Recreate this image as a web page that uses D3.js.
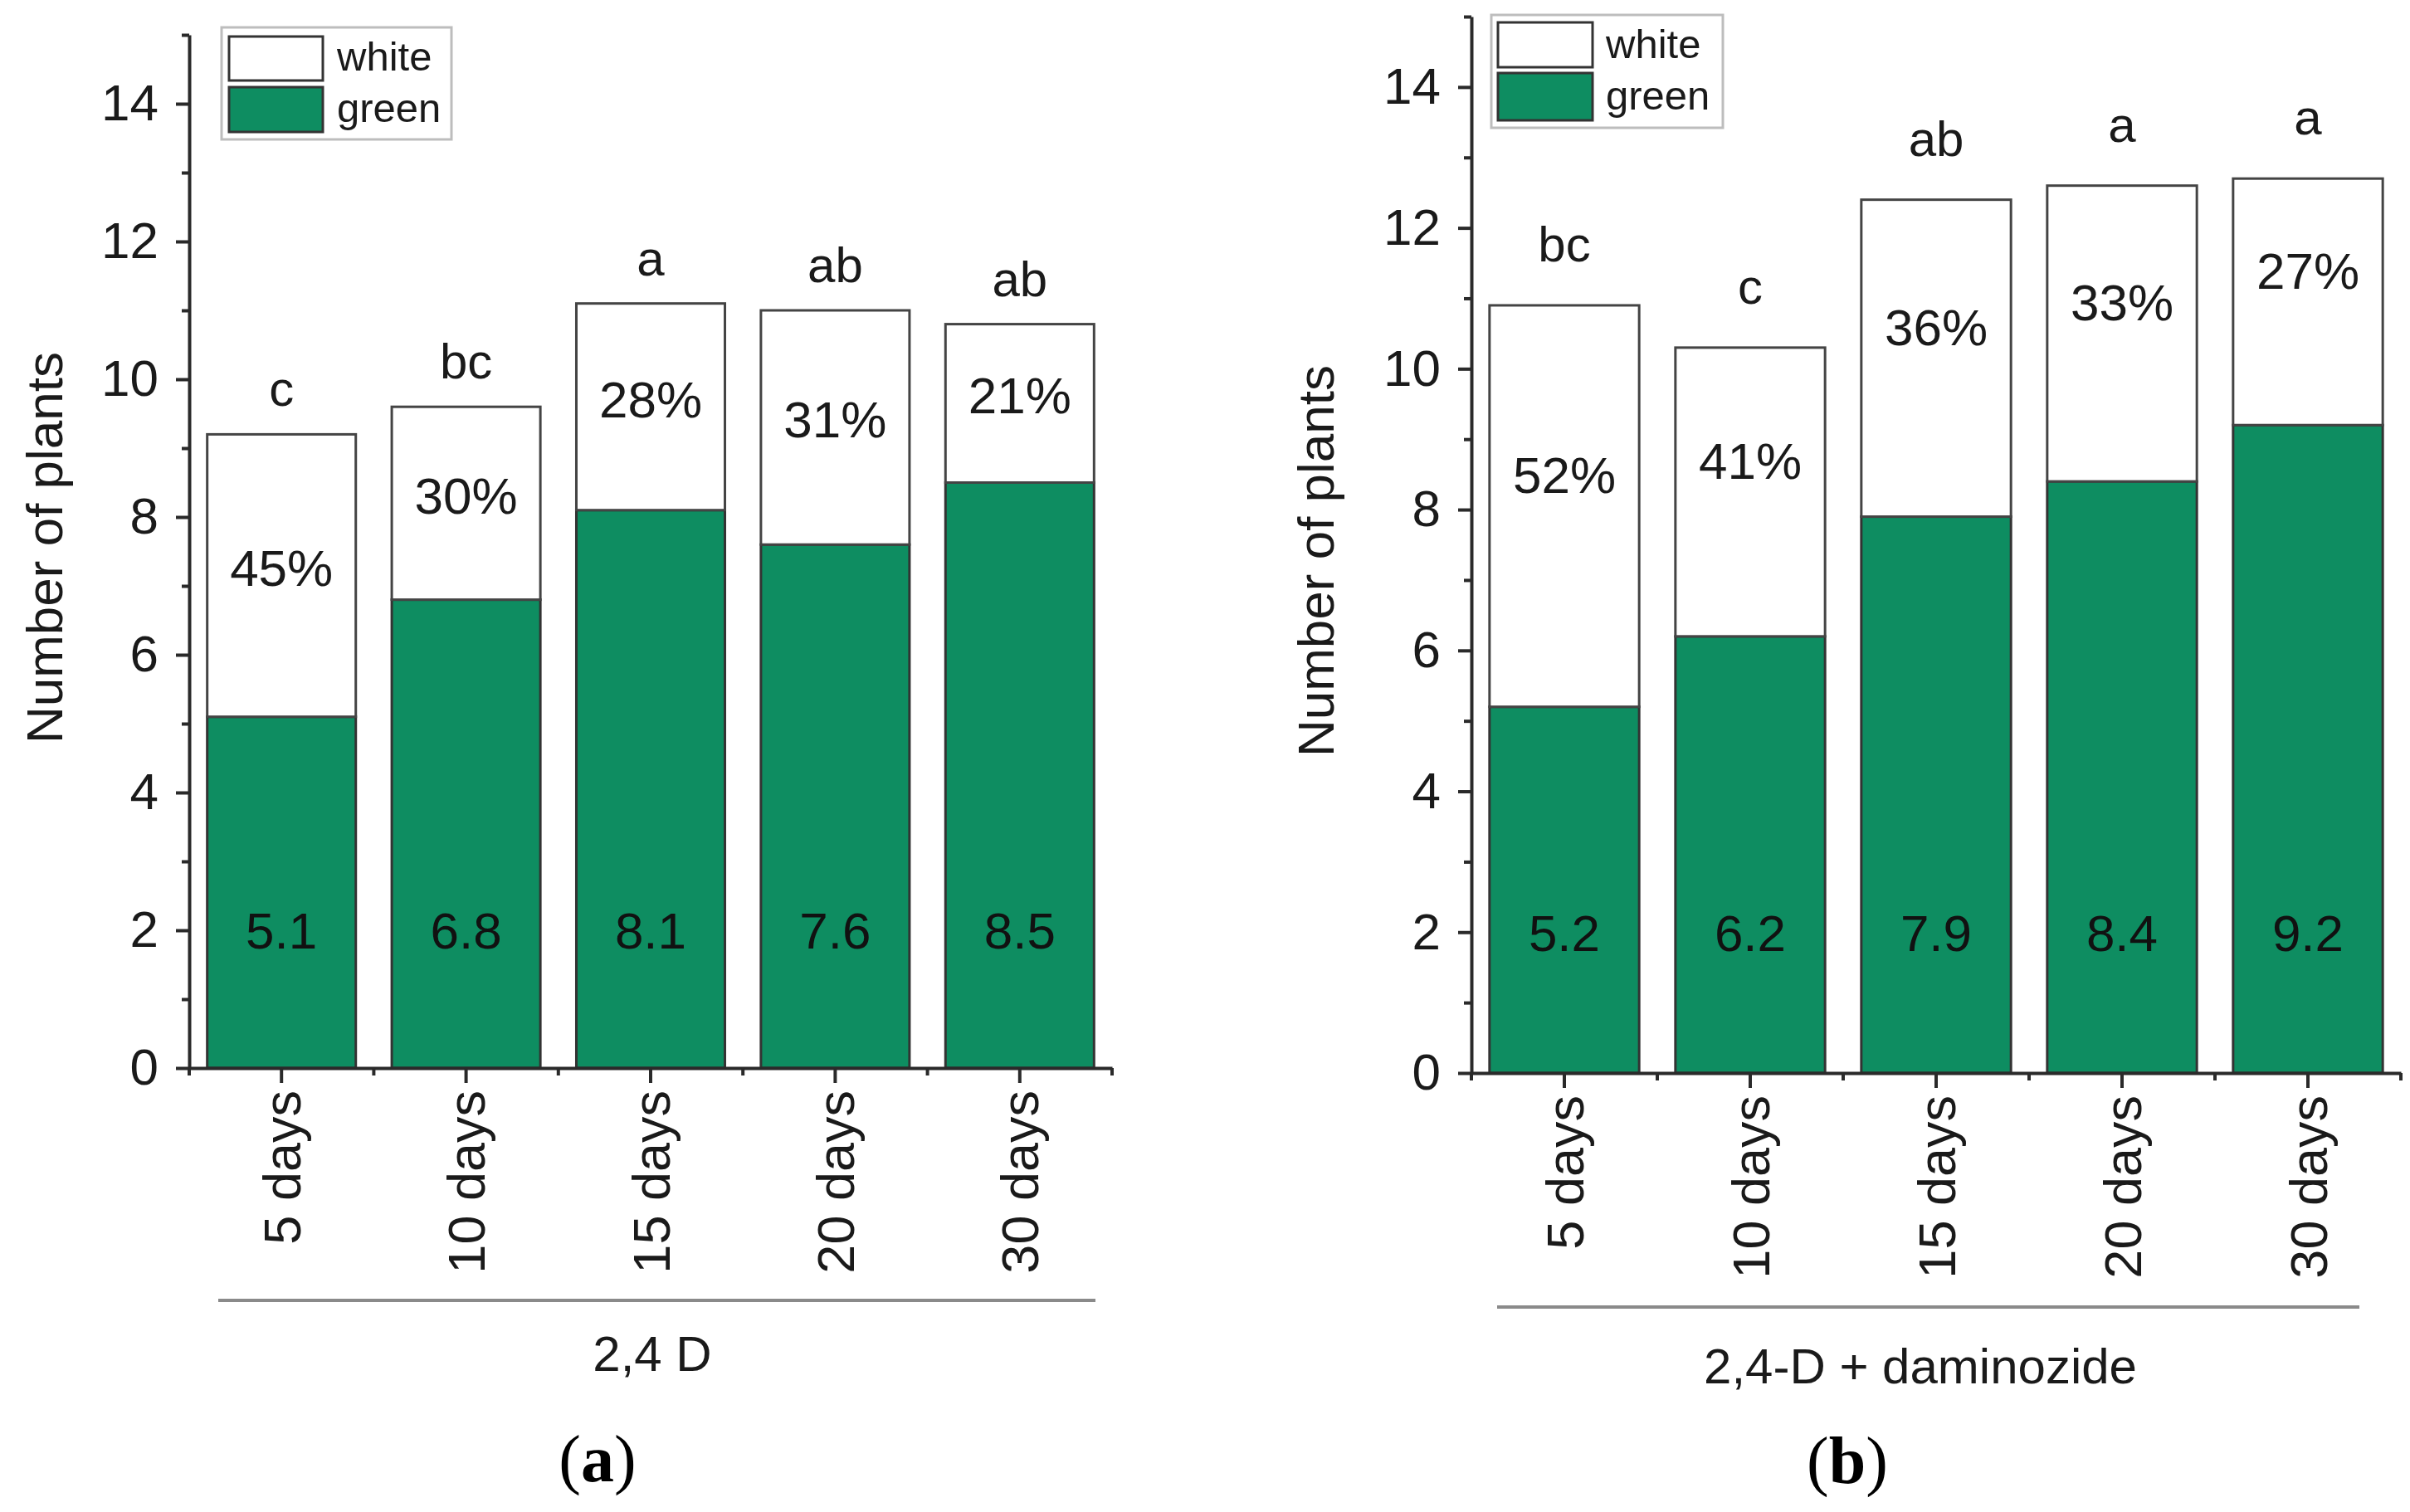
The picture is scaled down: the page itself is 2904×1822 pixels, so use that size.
<!DOCTYPE html>
<html>
<head>
<meta charset="utf-8">
<script src="https://cdn.jsdelivr.net/npm/d3@7"></script>
<style>
  html, body { margin: 0; padding: 0; background: #fff; }
  svg { display: block; }
  text { font-family: "Liberation Sans", Arial, sans-serif; fill: #1a1a1a; }
</style>
</head>
<body>
<svg id="chart" width="2904" height="1822"></svg>
<script>
// ---------- data ----------
const categories = ["5 days", "10 days", "15 days", "20 days", "30 days"];

const greenA = [5.1, 6.8, 8.1, 7.6, 8.5];
const totalA = [9.2, 9.6, 11.1, 11.0, 10.8];
const pctA = ["45%", "30%", "28%", "31%", "21%"];
const lettersA = ["c", "bc", "a", "ab", "ab"];

const greenB = [5.2, 6.2, 7.9, 8.4, 9.2];
const totalB = [10.9, 10.3, 12.4, 12.6, 12.7];
const pctB = ["52%", "41%", "36%", "33%", "27%"];
const lettersB = ["bc", "c", "ab", "a", "a"];

const yMajorTicks = [0, 2, 4, 6, 8, 10, 12, 14];
const yMinorTicks = [1, 3, 5, 7, 9, 11, 13, 15];
const yDomain = [0, 15];

const legendLabels = ["white", "green"];
const groupLabels = ["2,4 D", "2,4-D + daminozide"];
const panelLetters = ["a", "b"];
const yTitle = "Number of plants";

// ---------- styles / layout ----------
const GREEN = "#0e8d61";
const BAR_STROKE = "#333";
const AXIS_COLOR = "#2a2a2a";

const panels = [
  {
    green: greenA, total: totalA, pct: pctA, letters: lettersA,
    group: groupLabels[0], tag: panelLetters[0],
    x0: 228, x1: 1340, yBottom: 1287, yTop: 42,
    legend: { x: 267, y: 33, w: 277, h: 135, sx: 276, sw: 113, sy: [44, 105], sh: [53, 54], tx: 406, ty: [85, 147] },
    titlePos: [75, 660],
    line: [263, 1320, 1567], groupPos: [786, 1652], tagPos: [720, 1785],
    letterOffset: 34, pctShift: 0.12
  },
  {
    green: greenB, total: totalB, pct: pctB, letters: lettersB,
    group: groupLabels[1], tag: panelLetters[1],
    x0: 1773, x1: 2893, yBottom: 1293, yTop: 20,
    legend: { x: 1797, y: 18, w: 279, h: 136, sx: 1805, sw: 114, sy: [27, 88], sh: [54, 57], tx: 1935, ty: [70, 132] },
    titlePos: [1607, 676],
    line: [1804, 2843, 1575], groupPos: [2314, 1667], tagPos: [2226, 1787],
    letterOffset: 53, pctShift: 0.45
  }
];

const svg = d3.select("#chart");
svg.append("rect").attr("width", 2904).attr("height", 1822).attr("fill", "#fff");

panels.forEach(p => {
  const g = svg.append("g");
  const data = categories.map((c, i) => ({ cat: c, green: p.green[i], total: p.total[i], pct: p.pct[i], letter: p.letters[i] }));

  const x = d3.scaleBand().domain(categories).range([p.x0, p.x1]).paddingInner(0.195).paddingOuter(0.0975);
  const y = d3.scaleLinear().domain(yDomain).range([p.yBottom, p.yTop]);

  // bars: green part
  g.selectAll("rect.green").data(data).join("rect")
    .attr("class", "green")
    .attr("x", d => x(d.cat)).attr("width", x.bandwidth())
    .attr("y", d => y(d.green)).attr("height", d => y(0) - y(d.green))
    .attr("fill", GREEN).attr("stroke", BAR_STROKE).attr("stroke-width", 3);
  // bars: white part
  g.selectAll("rect.white").data(data).join("rect")
    .attr("class", "white")
    .attr("x", d => x(d.cat)).attr("width", x.bandwidth())
    .attr("y", d => y(d.total)).attr("height", d => y(d.green) - y(d.total))
    .attr("fill", "#fff").attr("stroke", "#444").attr("stroke-width", 3);

  // value labels in green
  g.selectAll("text.val").data(data).join("text")
    .attr("class", "val")
    .attr("x", d => x(d.cat) + x.bandwidth() / 2)
    .attr("y", y(2)).attr("dy", "0.36em")
    .attr("text-anchor", "middle").attr("font-size", 62)
    .style("fill", "#111")
    .text(d => d.green.toFixed(1));

  // percentages in white part
  g.selectAll("text.pct").data(data).join("text")
    .attr("class", "pct")
    .attr("x", d => x(d.cat) + x.bandwidth() / 2)
    .attr("y", d => y((d.green + d.total) / 2 + p.pctShift)).attr("dy", "0.36em")
    .attr("text-anchor", "middle").attr("font-size", 62)
    .text(d => d.pct);

  // significance letters
  g.selectAll("text.letter").data(data).join("text")
    .attr("class", "letter")
    .attr("x", d => x(d.cat) + x.bandwidth() / 2)
    .attr("y", d => y(d.total) - p.letterOffset)
    .attr("text-anchor", "middle").attr("font-size", 60)
    .text(d => d.letter);

  // y axis (major + minor)
  const yAxisG = g.append("g").attr("transform", `translate(${p.x0},0)`)
    .call(d3.axisLeft(y).tickValues(yMajorTicks).tickSize(16).tickSizeOuter(0).tickPadding(21).tickFormat(d3.format("d")));
  yAxisG.select(".domain").attr("stroke", AXIS_COLOR).attr("stroke-width", 4);
  yAxisG.selectAll(".tick line").attr("stroke", AXIS_COLOR).attr("stroke-width", 4);
  yAxisG.selectAll(".tick text").attr("font-size", 62).attr("font-family", "Liberation Sans, Arial, sans-serif").style("fill", "#1a1a1a");

  const yMinorG = g.append("g").attr("transform", `translate(${p.x0},0)`)
    .call(d3.axisLeft(y).tickValues(yMinorTicks).tickSize(9).tickSizeOuter(0).tickFormat(""));
  yMinorG.select(".domain").remove();
  yMinorG.selectAll(".tick line").attr("stroke", AXIS_COLOR).attr("stroke-width", 4);

  // x axis
  const xAxisG = g.append("g").attr("transform", `translate(0,${p.yBottom})`)
    .call(d3.axisBottom(x).tickSize(18).tickSizeOuter(0));
  xAxisG.select(".domain").attr("stroke", AXIS_COLOR).attr("stroke-width", 4);
  xAxisG.selectAll(".tick line").attr("stroke", AXIS_COLOR).attr("stroke-width", 4);
  xAxisG.selectAll(".tick text")
    .attr("font-size", 63).attr("font-family", "Liberation Sans, Arial, sans-serif").style("fill", "#1a1a1a")
    .attr("transform", "rotate(-90)")
    .attr("text-anchor", "end")
    .attr("x", -27).attr("y", 0).attr("dy", "0.36em");

  // minor ticks at band boundaries
  const bounds = d3.range(categories.length + 1).map(i => x.range()[0] + i * x.step());
  g.selectAll("line.xminor").data(bounds).join("line")
    .attr("class", "xminor")
    .attr("x1", d => d).attr("x2", d => d)
    .attr("y1", p.yBottom).attr("y2", p.yBottom + 9)
    .attr("stroke", AXIS_COLOR).attr("stroke-width", 4);

  // y title
  g.append("text")
    .attr("transform", `translate(${p.titlePos[0]},${p.titlePos[1]}) rotate(-90)`)
    .attr("text-anchor", "middle").attr("font-size", 62)
    .text(yTitle);

  // legend
  const L = p.legend;
  g.append("rect").attr("x", L.x).attr("y", L.y).attr("width", L.w).attr("height", L.h)
    .attr("fill", "#fff").attr("stroke", "#bdbdbd").attr("stroke-width", 3);
  const fills = ["#fff", GREEN];
  legendLabels.forEach((lab, i) => {
    g.append("rect").attr("x", L.sx).attr("y", L.sy[i]).attr("width", L.sw).attr("height", L.sh[i])
      .attr("fill", fills[i]).attr("stroke", "#333").attr("stroke-width", 3);
    g.append("text").attr("x", L.tx).attr("y", L.ty[i]).attr("font-size", 49).text(lab);
  });

  // group line and label
  g.append("line").attr("x1", p.line[0]).attr("x2", p.line[1]).attr("y1", p.line[2]).attr("y2", p.line[2])
    .attr("stroke", "#8a8a8a").attr("stroke-width", 4);
  g.append("text").attr("x", p.groupPos[0]).attr("y", p.groupPos[1])
    .attr("text-anchor", "middle").attr("font-size", 60).text(p.group);

  // panel tag (a)/(b)
  const t = g.append("text").attr("x", p.tagPos[0]).attr("y", p.tagPos[1])
    .attr("text-anchor", "middle").attr("font-size", 80)
    .style("font-family", "'Liberation Serif', 'Times New Roman', serif").style("fill", "#000");
  t.append("tspan").text("(");
  t.append("tspan").attr("font-weight", "bold").text(p.tag);
  t.append("tspan").text(")");
});
</script>
</body>
</html>
